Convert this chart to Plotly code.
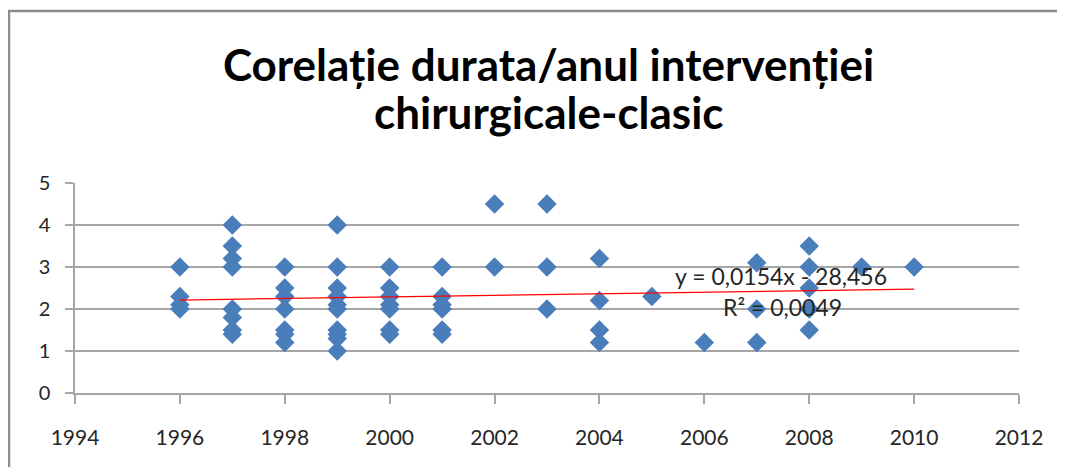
import numpy as np
import plotly.graph_objects as go

# Data (year -> durations)
years = ([1996]*4 + [1997]*8 + [1998]*7 + [1999]*10 + [2000]*7 + [2001]*6 +
         [2002]*2 + [2003]*3 + [2004]*4 + [2005] + [2006] + [2007]*3 +
         [2008]*5 + [2009] + [2010])
durations = ([3, 2.3, 2.1, 2.0] +
             [4, 3.5, 3.2, 3.0, 2.0, 1.8, 1.5, 1.4] +
             [3, 2.5, 2.3, 2.0, 1.5, 1.4, 1.2] +
             [4, 3, 2.5, 2.3, 2.1, 2.0, 1.5, 1.4, 1.3, 1.0] +
             [3, 2.5, 2.3, 2.1, 2.0, 1.5, 1.4] +
             [3, 2.3, 2.1, 2.0, 1.5, 1.4] +
             [4.5, 3] +
             [4.5, 3, 2] +
             [3.2, 2.2, 1.5, 1.2] +
             [2.3] +
             [1.2] +
             [3.1, 2.0, 1.2] +
             [3.5, 3.0, 2.5, 2.0, 1.5] +
             [3] +
             [3])
x_ticks = [1994, 1996, 1998, 2000, 2002, 2004, 2006, 2008, 2010, 2012]
y_ticks = [0, 1, 2, 3, 4, 5]
title_line1 = "Corelație durata/anul intervenției"
title_line2 = "chirurgicale-clasic"
eq_text = "y = 0,0154x - 28,456"
r2_text = "R² = 0,0049"

slope, intercept = np.polyfit(years, durations, 1)
trend_x = [min(years), max(years)]
trend_y = [slope * v + intercept for v in trend_x]

FONT = "Lato"
GRID = "#a6a6a6"
W, H = 1057, 459
L, R, T, B = 67, 46, 175, 74
PW, PH = W - L - R, H - T - B


def px(fx):
    return (fx - L) / PW


def py(fy):
    return (H - B - fy) / PH


fig = go.Figure()
fig.add_trace(go.Scatter(
    x=years, y=durations, mode="markers",
    marker=dict(symbol="diamond", size=15, color="#4a7ebb", line=dict(width=0)),
    showlegend=False, hoverinfo="x+y"))
fig.add_trace(go.Scatter(
    x=trend_x, y=trend_y, mode="lines",
    line=dict(color="#ff0000", width=1.2),
    showlegend=False, hoverinfo="skip"))

fig.update_layout(
    width=W, height=H,
    margin=dict(l=L, r=R, t=T, b=B),
    paper_bgcolor="white", plot_bgcolor="white",
    font=dict(family=FONT, color="#262626"),
    title=dict(text=title_line1, x=540.5 / W, xanchor="center",
               y=1 - 58 / H, yanchor="middle", yref="container",
               font=dict(family=FONT, size=44, color="#000000", weight="bold")),
    xaxis=dict(range=[1994, 2012], tickvals=x_ticks, showgrid=False,
               showline=True, linecolor=GRID, linewidth=1.5,
               ticks="outside", ticklen=9, tickcolor=GRID, tickwidth=1.5,
               ticklabelstandoff=16, tickfont=dict(size=21, family=FONT, color="#262626"),
               zeroline=False, fixedrange=True),
    yaxis=dict(range=[0, 5], tickvals=y_ticks, showgrid=True, gridcolor=GRID, gridwidth=1.5,
               showline=True, linecolor=GRID, linewidth=1.5,
               ticks="outside", ticklen=8, tickcolor=GRID, tickwidth=1.5,
               ticklabelstandoff=11, tickfont=dict(size=20, family=FONT, color="#262626"),
               zeroline=False, fixedrange=True),
    annotations=[
        dict(text=title_line2, xref="paper", yref="paper", x=px(540.5), y=py(104),
             showarrow=False, xanchor="center", yanchor="middle",
             font=dict(family=FONT, size=44, color="#000000", weight="bold")),
        dict(text=eq_text, xref="paper", yref="paper", x=px(773), y=py(267.5),
             showarrow=False, xanchor="center", yanchor="middle",
             font=dict(family=FONT, size=23, color="#262626")),
        dict(text=r2_text, xref="paper", yref="paper", x=px(774), y=py(298.5),
             showarrow=False, xanchor="center", yanchor="middle",
             font=dict(family=FONT, size=23, color="#262626")),
    ],
    shapes=[
        dict(type="rect", xref="paper", yref="paper",
             x0=px(1), x1=px(W + 40), y0=py(3), y1=py(H + 40),
             line=dict(color="#8c8c8c", width=2.5), fillcolor="rgba(0,0,0,0)",
             layer="below"),
    ],
)

fig.write_html("out.html")
